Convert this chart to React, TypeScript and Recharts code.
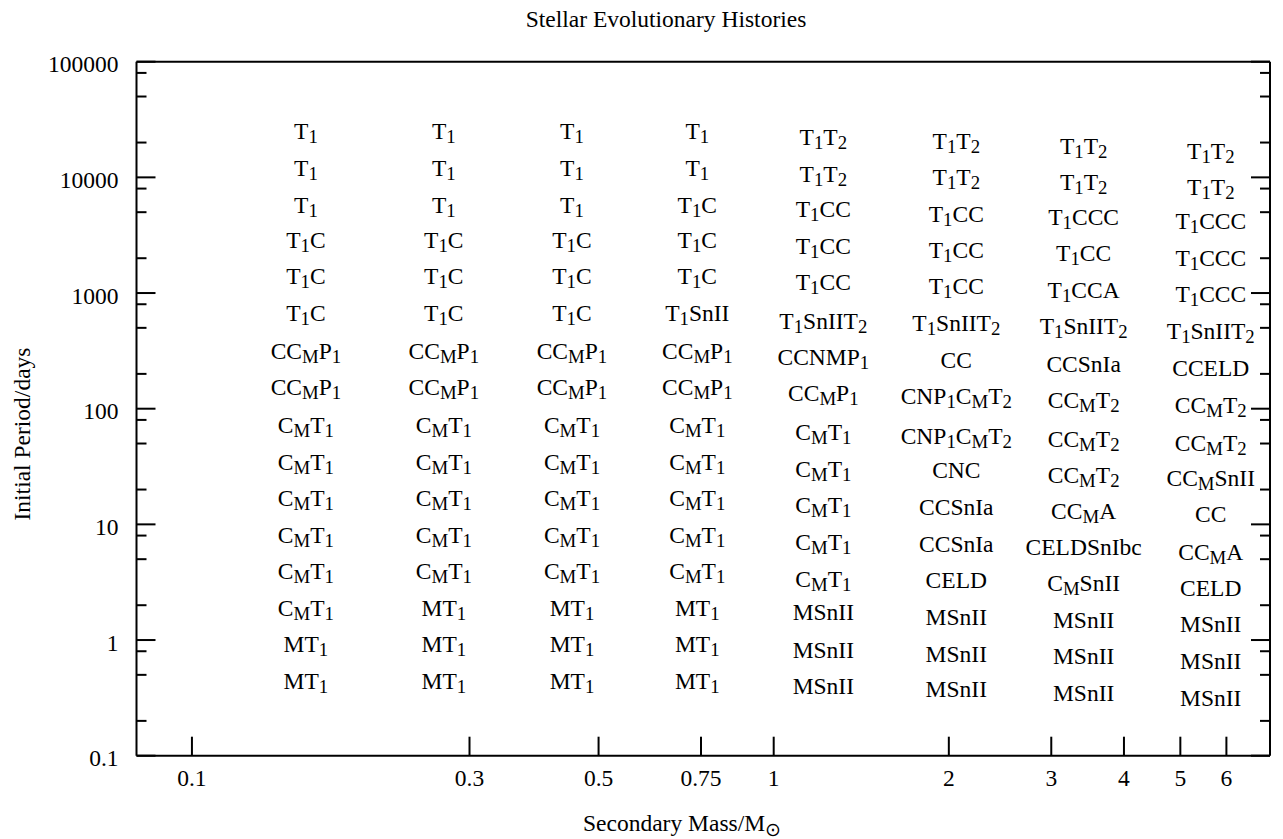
import React from 'react';
import { ScatterChart, Scatter, XAxis, YAxis, Label } from 'recharts';

const FONT = '"Liberation Serif", "Times New Roman", Times, serif';
const FS = 23.5;
const SUB_FS = FS * 0.8;
const SUB_SHIFT = 4;

// Axis ticks
const xMajorTicks = [0.1, 0.3, 0.5, 0.75, 1, 2, 3, 4, 5, 6];
const xTickLabels = ['0.1', '0.3', '0.5', '0.75', '1', '2', '3', '4', '5', '6'];
const yMajorTicks = [0.1, 1, 10, 100, 1000, 10000, 100000];
const yTickLabels = ['0.1', '1', '10', '100', '1000', '10000', '100000'];
const yMinorTicks = [0.2, 0.5, 0.8, 2, 5, 8, 20, 50, 80, 200, 500, 800, 2000, 5000, 8000, 20000, 50000, 80000];

// Column positions (secondary mass)
const columnMasses = [0.157, 0.271, 0.45, 0.739, 1.217, 2.06, 3.41, 5.64];

// Labels ("_x" marks a subscript character) and their periods, per column
const col1Labels = ['T_1', 'T_1', 'T_1', 'T_1C', 'T_1C', 'T_1C', 'CC_MP_1', 'CC_MP_1', 'C_MT_1', 'C_MT_1', 'C_MT_1', 'C_MT_1', 'C_MT_1', 'C_MT_1', 'MT_1', 'MT_1'];
const col1Periods = [25000, 12050, 5730, 2870, 1384, 668, 313, 152, 72.3, 34.8, 16.8, 8.09, 3.9, 1.88, 0.912, 0.44];

const col2Labels = ['T_1', 'T_1', 'T_1', 'T_1C', 'T_1C', 'T_1C', 'CC_MP_1', 'CC_MP_1', 'C_MT_1', 'C_MT_1', 'C_MT_1', 'C_MT_1', 'C_MT_1', 'MT_1', 'MT_1', 'MT_1'];
const col2Periods = [25000, 12050, 5730, 2870, 1384, 668, 313, 152, 72.3, 34.8, 16.8, 8.09, 3.9, 1.88, 0.912, 0.44];

const col3Labels = ['T_1', 'T_1', 'T_1', 'T_1C', 'T_1C', 'T_1C', 'CC_MP_1', 'CC_MP_1', 'C_MT_1', 'C_MT_1', 'C_MT_1', 'C_MT_1', 'C_MT_1', 'MT_1', 'MT_1', 'MT_1'];
const col3Periods = [25000, 12050, 5730, 2870, 1384, 668, 313, 152, 72.3, 34.8, 16.8, 8.09, 3.9, 1.88, 0.912, 0.44];

const col4Labels = ['T_1', 'T_1', 'T_1C', 'T_1C', 'T_1C', 'T_1SnII', 'CC_MP_1', 'CC_MP_1', 'C_MT_1', 'C_MT_1', 'C_MT_1', 'C_MT_1', 'C_MT_1', 'MT_1', 'MT_1', 'MT_1'];
const col4Periods = [25000, 12050, 5730, 2870, 1384, 668, 313, 152, 72.3, 34.8, 16.8, 8.09, 3.9, 1.88, 0.912, 0.44];

const col5Labels = ['T_1T_2', 'T_1T_2', 'T_1CC', 'T_1CC', 'T_1CC', 'T_1SnIIT_2', 'CCNMP_1', 'CC_MP_1', 'C_MT_1', 'C_MT_1', 'C_MT_1', 'C_MT_1', 'C_MT_1', 'MSnII', 'MSnII', 'MSnII'];
const col5Periods = [22230, 10740, 5270, 2540, 1241, 575, 277, 136.7, 62.2, 30.1, 14.5, 6.97, 3.37, 1.73, 0.82, 0.395];

const col6Labels = ['T_1T_2', 'T_1T_2', 'T_1CC', 'T_1CC', 'T_1CC', 'T_1SnIIT_2', 'CC', 'CNP_1C_MT_2', 'CNP_1C_MT_2', 'CNC', 'CCSnIa', 'CCSnIa', 'CELD', 'MSnII', 'MSnII', 'MSnII'];
const col6Periods = [20700, 9970, 4840, 2355, 1135, 547, 264, 127, 58.3, 29.2, 14.1, 6.79, 3.27, 1.59, 0.76, 0.373];

const col7Labels = ['T_1T_2', 'T_1T_2', 'T_1CCC', 'T_1CC', 'T_1CCA', 'T_1SnIIT_2', 'CCSnIa', 'CC_MT_2', 'CC_MT_2', 'CC_MT_2', 'CC_MA', 'CELDSnIbc', 'C_MSnII', 'MSnII', 'MSnII', 'MSnII'];
const col7Periods = [18740, 9030, 4525, 2218, 1052, 512, 244, 119, 54.5, 26.4, 12.9, 6.37, 3.09, 1.49, 0.718, 0.346];

const col8Labels = ['T_1T_2', 'T_1T_2', 'T_1CCC', 'T_1CCC', 'T_1CCC', 'T_1SnIIT_2', 'CCELD', 'CC_MT_2', 'CC_MT_2', 'CC_MSnII', 'CC', 'CC_MA', 'CELD', 'MSnII', 'MSnII', 'MSnII'];
const col8Periods = [16980, 8170, 4197, 2019, 975, 471, 223, 107.6, 50.2, 25.0, 12.2, 5.8, 2.8, 1.38, 0.65, 0.313];

const columnLabels = [col1Labels, col2Labels, col3Labels, col4Labels, col5Labels, col6Labels, col7Labels, col8Labels];
const columnPeriods = [col1Periods, col2Periods, col3Periods, col4Periods, col5Periods, col6Periods, col7Periods, col8Periods];

const columnData = columnMasses.map((mass, c) =>
  columnLabels[c].map((label, r) => ({ mass, period: columnPeriods[c][r], label }))
);

const yAllTicks = [...yMajorTicks, ...yMinorTicks].sort((a, b) => a - b);

type Seg = { t: string; sub: boolean };
function parseRich(s: string): Seg[] {
  const segs: Seg[] = [];
  let i = 0;
  while (i < s.length) {
    if (s[i] === '_' && i + 1 < s.length) {
      segs.push({ t: s[i + 1], sub: true });
      i += 2;
    } else {
      const last = segs[segs.length - 1];
      if (last && !last.sub) last.t += s[i];
      else segs.push({ t: s[i], sub: false });
      i += 1;
    }
  }
  return segs;
}

function RichText({ x, y, text, anchor = 'middle' }: { x: number; y: number; text: string; anchor?: string }) {
  const segs = parseRich(text);
  let prevSub = false;
  return (
    <text x={x} y={y} textAnchor={anchor as any} fontFamily={FONT} fontSize={FS} fill="#000">
      {segs.map((sg, i) => {
        let dy = 0;
        if (sg.sub && !prevSub) dy = SUB_SHIFT;
        if (!sg.sub && prevSub) dy = -SUB_SHIFT;
        prevSub = sg.sub;
        return (
          <tspan key={i} dy={dy} fontSize={sg.sub ? SUB_FS : FS}>
            {sg.t}
          </tspan>
        );
      })}
    </text>
  );
}

const LabelShape = (props: any) => {
  const { cx, cy, payload } = props;
  if (cx == null || cy == null) return <g />;
  return <RichText x={cx} y={cy + FS * 0.331} text={payload.label} />;
};

const isMajor = (v: number, majors: number[]) => majors.findIndex((m) => Math.abs(m - v) < 1e-6 * m);

const makeTick = (side: 'left' | 'right' | 'top' | 'bottom', majors: number[], labels: string[]) =>
  (props: any) => {
    const { x, y, payload } = props;
    const idx = isMajor(payload.value, majors);
    const len = idx >= 0 ? 19 : 10;
    let line;
    let lab = null;
    if (side === 'left') {
      line = <line x1={x} y1={y} x2={x + len} y2={y} stroke="#000" strokeWidth={2} />;
      if (idx >= 0)
        lab = (
          <text x={x - 18} y={y + 10.6} textAnchor="end" fontFamily={FONT} fontSize={FS} fill="#000">
            {labels[idx]}
          </text>
        );
    } else if (side === 'right') {
      line = <line x1={x} y1={y} x2={x - len} y2={y} stroke="#000" strokeWidth={2} />;
    } else if (side === 'bottom') {
      line = <line x1={x} y1={y} x2={x} y2={y - len} stroke="#000" strokeWidth={2} />;
      if (idx >= 0)
        lab = (
          <text x={x} y={y + 30} textAnchor="middle" fontFamily={FONT} fontSize={FS} fill="#000">
            {labels[idx]}
          </text>
        );
    } else {
      line = <line x1={x} y1={y} x2={x} y2={y + len} stroke="#000" strokeWidth={2} />;
    }
    return (
      <g>
        {line}
        {lab}
      </g>
    );
  };

const TitleContent = () => (
  <text x={666} y={27} textAnchor="middle" fontFamily={FONT} fontSize={FS} fill="#000">
    Stellar Evolutionary Histories
  </text>
);

const XLabelContent = () => (
  <text x={583} y={831} textAnchor="start" fontFamily={FONT} fontSize={FS} fill="#000">
    <tspan>Secondary Mass/M</tspan>
    <tspan dy={5} fontSize={SUB_FS}>⊙</tspan>
  </text>
);

const YLabelContent = () => (
  <text
    transform="translate(29.5, 434) rotate(-90)"
    textAnchor="middle"
    fontFamily={FONT}
    fontSize={FS}
    fill="#000"
  >
    Initial Period/days
  </text>
);

const axisLine = { stroke: '#000', strokeWidth: 2 };

export default function App() {
  return (
    <div style={{ position: 'absolute', left: 0, top: 0, background: '#fff' }}>
      <ScatterChart
        width={1283}
        height={839}
        margin={{ top: 31.7, right: 3, bottom: 53.3, left: 36.5 }}
      >
        <XAxis
          xAxisId="bottom"
          dataKey="mass"
          type="number"
          scale="log"
          domain={[0.0803, 7.13]}
          allowDataOverflow
          orientation="bottom"
          height={30}
          ticks={xMajorTicks}
          interval={0}
          tickSize={0}
          tickMargin={0}
          tickLine={false}
          axisLine={axisLine}
          tick={makeTick('bottom', xMajorTicks, xTickLabels)}
        >
          <Label content={XLabelContent} />
        </XAxis>
        <XAxis
          xAxisId="top"
          type="number"
          scale="log"
          domain={[0.0803, 7.13]}
          allowDataOverflow
          orientation="top"
          height={30}
          ticks={xMajorTicks}
          interval={0}
          tickSize={0}
          tickMargin={0}
          tickLine={false}
          axisLine={axisLine}
          tick={makeTick('top', xMajorTicks, xTickLabels)}
        >
          <Label content={TitleContent} />
        </XAxis>
        <YAxis
          yAxisId="left"
          dataKey="period"
          type="number"
          scale="log"
          domain={[0.1, 100000]}
          allowDataOverflow
          orientation="left"
          width={100}
          ticks={yAllTicks}
          interval={0}
          tickSize={0}
          tickMargin={0}
          tickLine={false}
          axisLine={axisLine}
          tick={makeTick('left', yMajorTicks, yTickLabels)}
        >
          <Label content={YLabelContent} />
        </YAxis>
        <YAxis
          yAxisId="right"
          type="number"
          scale="log"
          domain={[0.1, 100000]}
          allowDataOverflow
          orientation="right"
          width={10}
          ticks={yAllTicks}
          interval={0}
          tickSize={0}
          tickMargin={0}
          tickLine={false}
          axisLine={axisLine}
          tick={makeTick('right', yMajorTicks, yTickLabels)}
        />
        {columnData.map((data, i) => (
          <Scatter
            key={i}
            name={`col${i + 1}`}
            data={data}
            xAxisId="bottom"
            yAxisId="left"
            isAnimationActive={false}
            shape={LabelShape}
          />
        ))}
      </ScatterChart>
    </div>
  );
}
